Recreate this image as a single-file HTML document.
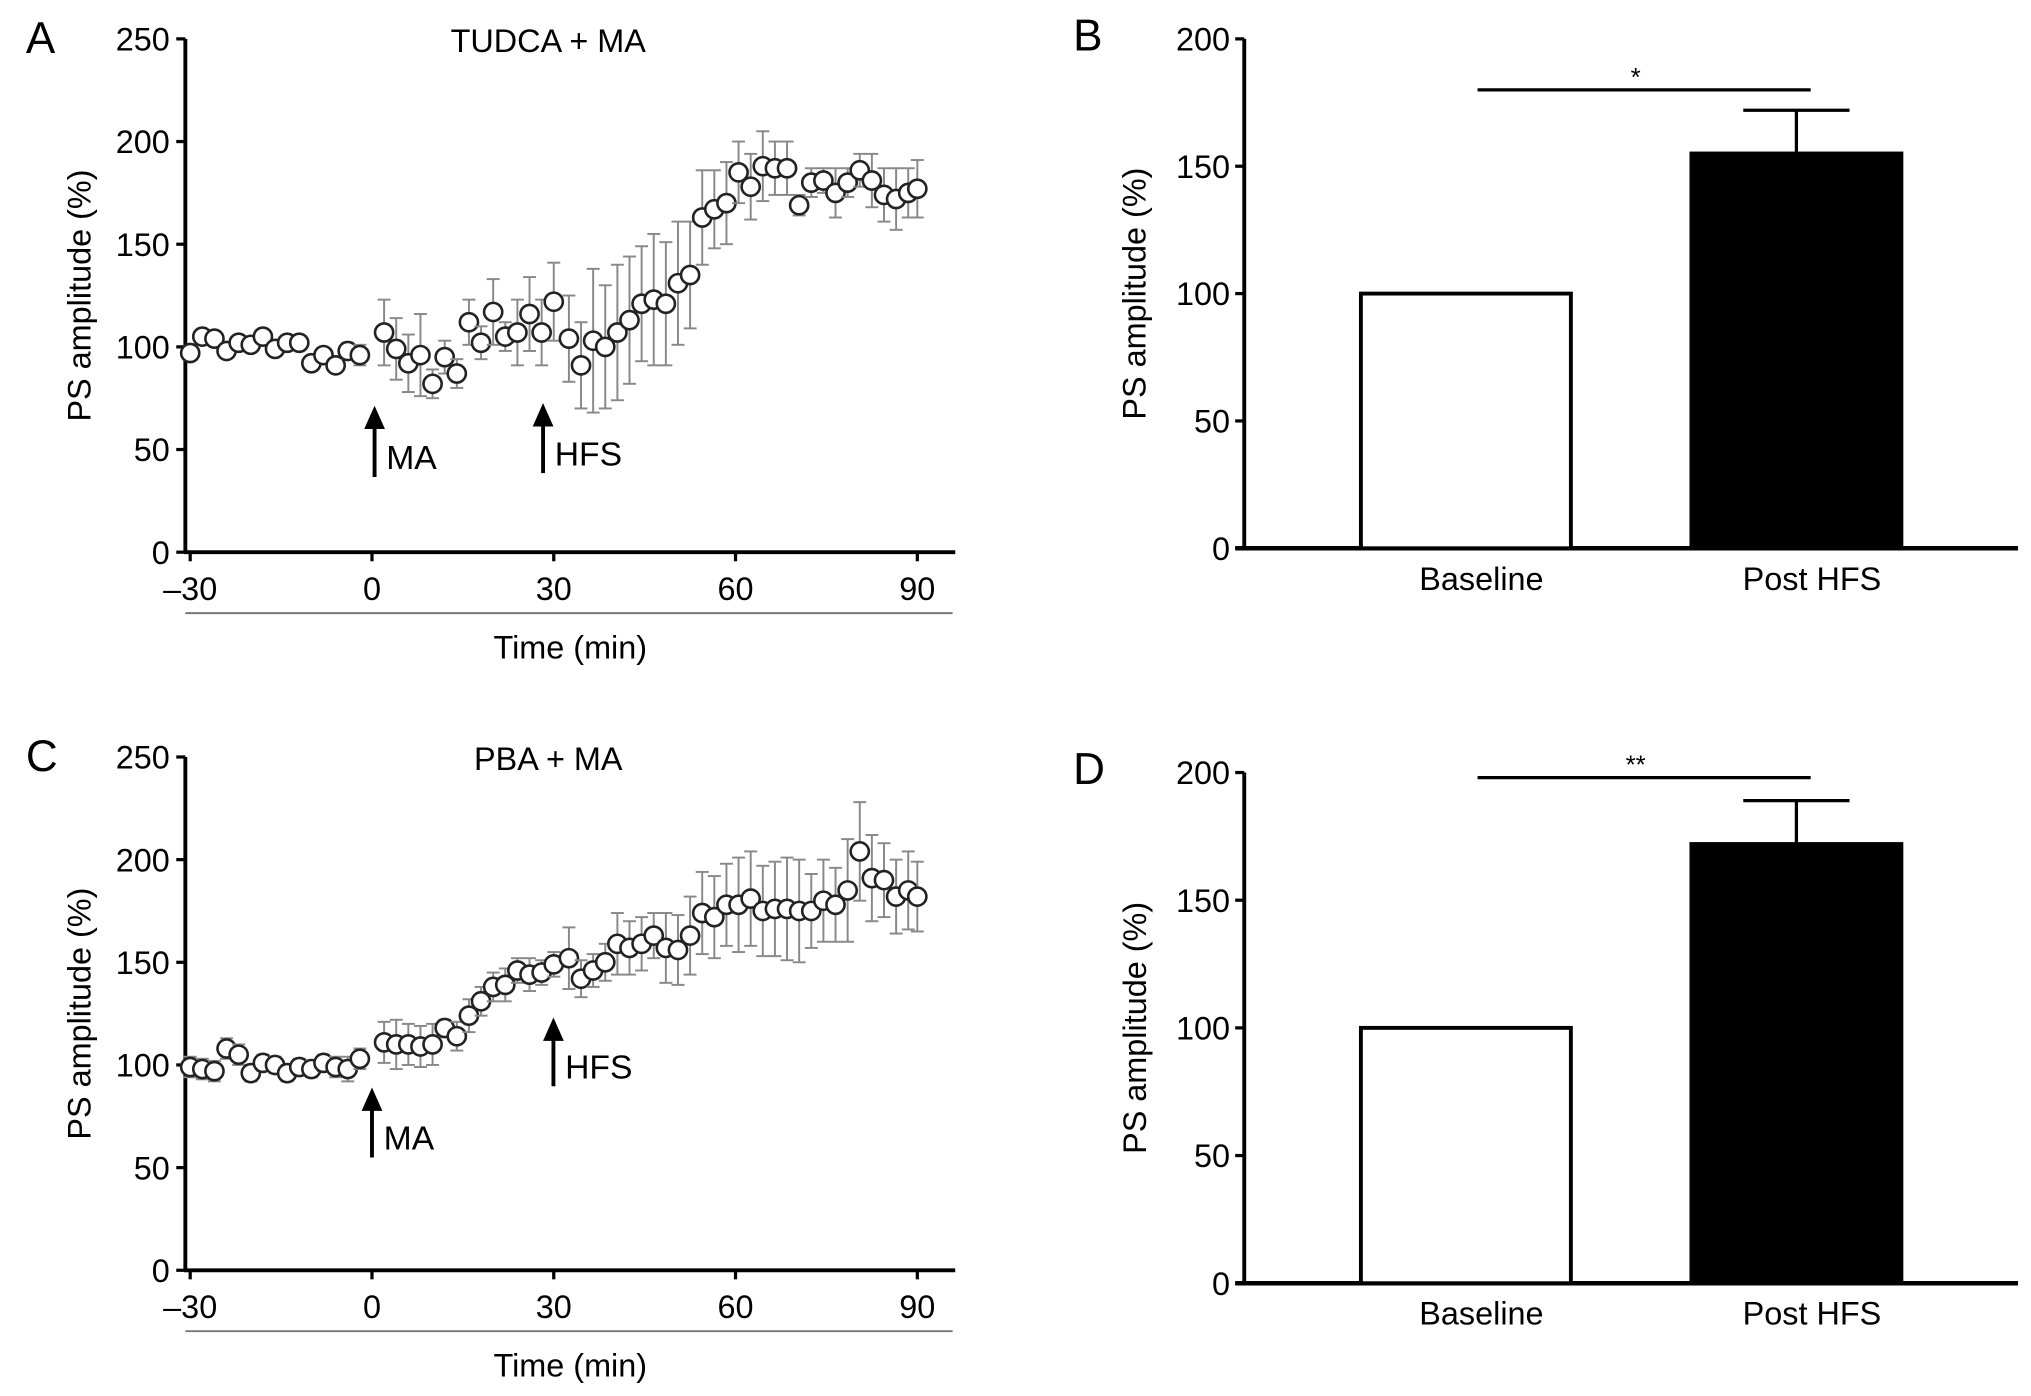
<!DOCTYPE html>
<html><head><meta charset="utf-8"><style>
html,body{margin:0;padding:0;background:#fff;}
svg{display:block;font-family:"Liberation Sans",Arial,sans-serif;}
</style></head><body>
<svg id="fig" width="2031" height="1396" viewBox="0 0 1567 1077" preserveAspectRatio="none" xmlns="http://www.w3.org/2000/svg"></svg>
<script>
// Panel A data
const aTimesPre = [-30,-28,-26,-24,-22,-20,-18,-16,-14,-12,-10,-8,-6,-4,-2];
const aValsPre = [97,105,104,98,102,101,105,99,102,102,92,96,91,98,96];
const aErrPre = [3,3,3,3,3,3,3,3,3,3,3,3,3,4,5];
const aTimesMA = [2,4,6,8,10,12,14,16,18,20,22,24,26,28,30];
const aValsMA = [107,99,92,96,82,95,87,112,102,117,105,107,116,107,122];
const aErrMA = [16,15,14,20,7,8,7,11,8,16,7,16,18,16,19];
const aTimesHFS = [32.5,34.5,36.5,38.5,40.5,42.5,44.5,46.5,48.5,50.5,52.5,54.5,56.5,58.5,60.5,62.5,64.5,66.5,68.5,70.5,72.5,74.5,76.5,78.5,80.5,82.5,84.5,86.5,88.5,90];
const aValsHFS = [104,91,103,100,107,113,121,123,121,131,135,163,167,170,185,178,188,187,187,169,180,181,175,180,186,181,174,172,175,177];
const aErrHFS = [21,21,35,30,33,31,28,32,30,30,26,23,19,20,15,16,17,13,13,5,7,6,12,7,8,13,13,15,12,14];
// Panel C data
const cValsPre = [99,98,97,108,105,96,101,100,96,99,98,101,99,98,103];
const cErrPre = [5,5,5,5,5,4,4,4,4,4,4,4,5,6,5];
const cValsMA = [111,110,110,109,110,118,114,124,131,138,139,146,144,145,149];
const cErrMA = [10,12,10,10,10,4,7,8,7,7,8,6,8,6,6];
const cValsHFS = [152,142,146,150,159,157,159,163,157,156,163,174,172,178,178,181,175,176,176,175,175,180,178,185,204,191,190,182,185,182];
const cErrHFS = [15,9,8,9,15,13,13,11,17,17,19,20,20,20,23,23,22,23,25,25,18,20,18,25,24,21,18,18,19,17];
// Bar data
const barCats = ["Baseline","Post HFS"];
const bVals = [100,155];
const bErr = [0,17];
const dVals = [100,172];
const dErr = [0,17];
const lineTicks = [-30,0,30,60,90];
const lineYTicks = [0,50,100,150,200,250];
const barYTicks = [0,50,100,150,200];

const NS="http://www.w3.org/2000/svg";
const svg=document.getElementById('fig');
function mk(tag,attrs,parent,text){const e=document.createElementNS(NS,tag);for(const k in attrs)e.setAttribute(k,attrs[k]);if(text!==undefined)e.textContent=text;(parent||svg).appendChild(e);return e;}

function linePanel(o){
  const g=mk('g',{});
  
  
  const xs=t=>287+t*4.675;
  const ys=v=>o.y0-(v/250)*(o.y0-o.yTop);
  let t=mk('text',{x:20,y:o.yTop+11,'font-size':34},g,o.letter);
  
  t=mk('text',{x:423,y:o.yTop+10,'font-size':25,'text-anchor':'middle'},g,o.title);
  
  let a=mk('line',{x1:143,y1:o.yTop,x2:143,y2:o.y0,stroke:'#000','stroke-width':3},g);
  
  a=mk('line',{x1:142,y1:o.y0,x2:737,y2:o.y0,stroke:'#000','stroke-width':3},g);
  
  lineYTicks.forEach(v=>{
    mk('line',{x1:136,y1:ys(v),x2:143,y2:ys(v),stroke:'#000','stroke-width':2.5},g);
    const l=mk('text',{x:131,y:ys(v)+9,'font-size':25,'text-anchor':'end'},g,String(v));
    
  });
  lineTicks.forEach(v=>{
    mk('line',{x1:xs(v),y1:o.y0,x2:xs(v),y2:o.y0+7,stroke:'#000','stroke-width':2.5},g);
    const l=mk('text',{x:xs(v),y:o.y0+37,'font-size':25,'text-anchor':'middle'},g,v<0?'\u2013'+(-v):String(v));
    
  });
  a=mk('line',{x1:143,y1:o.y0+47,x2:735,y2:o.y0+47,stroke:'#777','stroke-width':1.5},g);
  
  t=mk('text',{x:440,y:o.y0+82,'font-size':25,'text-anchor':'middle'},g,'Time (min)');
  
  const cy=(o.y0+o.yTop)/2;
  t=mk('text',{x:70,y:cy,'font-size':25,'text-anchor':'middle',transform:`rotate(-90 70 ${cy})`},g,'PS amplitude (%)');
  
  o.arrows.forEach(ar=>{
    const ag=mk('g',{},g);
    
    mk('line',{x1:ar.x,y1:ar.y2,x2:ar.x,y2:ar.y1+10,stroke:'#000','stroke-width':3},ag);
    mk('polygon',{points:`${ar.x-8},${ar.y1+18} ${ar.x+8},${ar.y1+18} ${ar.x},${ar.y1}`,fill:'#000'},ag);
    mk('text',{x:ar.x+9,y:ar.y2-6,'font-size':26},ag,ar.label);
  });
  o.series.forEach(s=>{
    s.t.forEach((tt,i)=>{
      const x=xs(tt),y=ys(s.v[i]),e=(s.e[i]/250)*(o.y0-o.yTop);
      const eg=mk('g',{stroke:'#888','stroke-width':1.5},g);
      
      
      mk('line',{x1:x,y1:y-e,x2:x,y2:y+e},eg);
      mk('line',{x1:x-5,y1:y-e,x2:x+5,y2:y-e},eg);
      mk('line',{x1:x-5,y1:y+e,x2:x+5,y2:y+e},eg);
      const c=mk('circle',{cx:x,cy:y,r:7,fill:'#fff',stroke:'#222','stroke-width':2},g);
      
      
    });
  });
}

linePanel({name:'panel-a',letter:'A',title:'TUDCA + MA',yTop:30,y0:426,
  arrows:[{name:'ma-arrow',x:289,y1:313,y2:368,label:'MA'},{name:'hfs-arrow',x:419,y1:311,y2:365,label:'HFS'}],
  series:[{t:aTimesPre,v:aValsPre,e:aErrPre},{t:aTimesMA,v:aValsMA,e:aErrMA},{t:aTimesHFS,v:aValsHFS,e:aErrHFS}]});
linePanel({name:'panel-c',letter:'C',title:'PBA + MA',yTop:584,y0:980,
  arrows:[{name:'ma-arrow',x:287,y1:839,y2:893,label:'MA'},{name:'hfs-arrow',x:427,y1:785,y2:838,label:'HFS'}],
  series:[{t:aTimesPre,v:cValsPre,e:cErrPre},{t:aTimesMA,v:cValsMA,e:cErrMA},{t:aTimesHFS,v:cValsHFS,e:cErrHFS}]});

function barPanel(o){
  const g=mk('g',{});
  
  
  const ys=v=>o.y0-(v/200)*(o.y0-o.yTop);
  let t=mk('text',{x:828,y:o.yTop+9,'font-size':34},g,o.letter);
  
  let a=mk('line',{x1:960,y1:o.yTop,x2:960,y2:o.y0,stroke:'#000','stroke-width':3},g);
  
  a=mk('line',{x1:953,y1:o.y0,x2:1557,y2:o.y0,stroke:'#000','stroke-width':3.5},g);
  
  barYTicks.forEach(v=>{
    mk('line',{x1:953,y1:ys(v),x2:960,y2:ys(v),stroke:'#000','stroke-width':2.5},g);
    const l=mk('text',{x:949,y:ys(v)+9,'font-size':25,'text-anchor':'end'},g,String(v));
    
  });
  const cy=(o.y0+o.yTop)/2;
  t=mk('text',{x:884,y:cy,'font-size':25,'text-anchor':'middle',transform:`rotate(-90 884 ${cy})`},g,'PS amplitude (%)');
  
  const centers=[1131,1386],w=165;
  barCats.forEach((c,i)=>{
    const y=ys(o.vals[i]);
    if(o.err[i]>0){
      const ey=ys(o.vals[i]+o.err[i]);
      const eb=mk('g',{stroke:'#000','stroke-width':2.5},g);
      
      mk('line',{x1:centers[i],y1:y,x2:centers[i],y2:ey},eb);
      mk('line',{x1:centers[i]-41,y1:ey,x2:centers[i]+41,y2:ey},eb);
    }
    const r=mk('rect',{x:centers[i]-w/2+1.5,y:y,width:w-3,height:o.y0-y,fill:i?'#000':'#fff',stroke:'#000','stroke-width':3},g);
    
    
    const l=mk('text',{x:centers[i]+12,y:o.y0+32,'font-size':25,'text-anchor':'middle'},g,c);
    
  });
  const sy=ys(o.sigV);
  a=mk('line',{x1:1140,y1:sy,x2:1397,y2:sy,stroke:'#000','stroke-width':2.5},g);
  
  t=mk('text',{x:1262,y:sy-3,'font-size':20,'text-anchor':'middle'},g,o.star);
  
}
barPanel({name:'panel-b',letter:'B',yTop:30,y0:423,vals:bVals,err:bErr,sigV:180,star:'*'});
barPanel({name:'panel-d',letter:'D',yTop:596,y0:990,vals:dVals,err:dErr,sigV:198,star:'**'});
</script>
</body></html>
